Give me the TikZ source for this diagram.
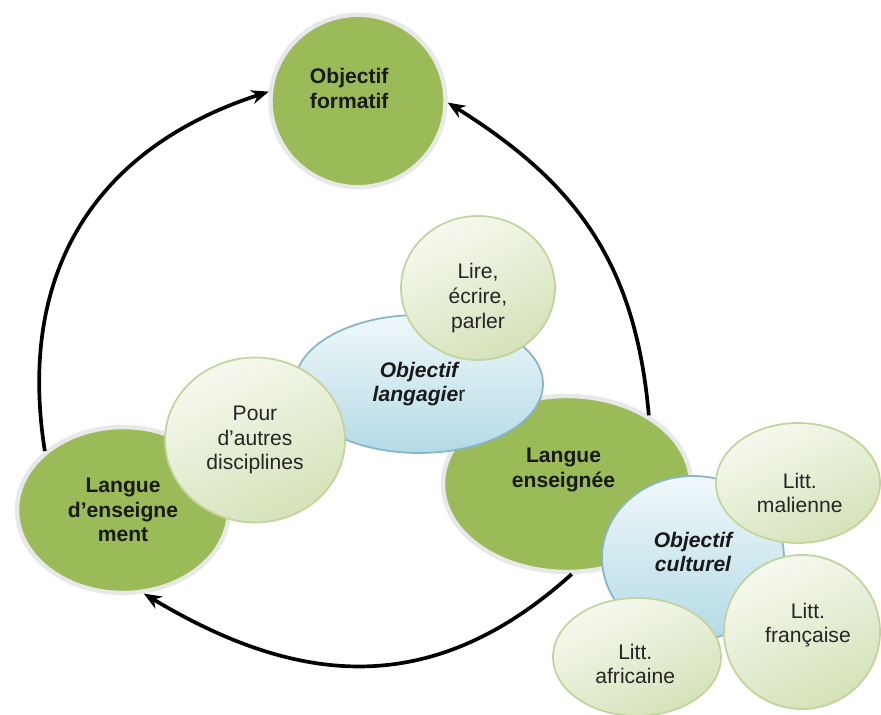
\documentclass[tikz,border=0pt]{standalone}
\usepackage{fontspec}
\setmainfont{Liberation Sans}
\usepackage{xcolor}
\usepackage{tikz}
\usetikzlibrary{arrows.meta,shapes.geometric}

\definecolor{olivegreen}{HTML}{9BBB59}
\definecolor{leaftop}{HTML}{F6F9EF}
\definecolor{leafbottom}{HTML}{D5E2B9}
\definecolor{leafrim}{HTML}{C2D49C}
\definecolor{skytop}{HTML}{F0F8FA}
\definecolor{skybottom}{HTML}{B3DAE6}
\definecolor{skyrim}{HTML}{86B6C8}

\begin{document}
\begin{tikzpicture}[
    x=0.02cm, y=0.02cm,
    darkblob/.style={ellipse, inner sep=0pt, fill=olivegreen, draw=black!9, line width=2.5pt},
    leafblob/.style={ellipse, inner sep=0pt, top color=leaftop, bottom color=leafbottom, shading angle=25, draw=leafrim, line width=1pt},
    skyblob/.style={ellipse, inner sep=0pt, top color=skytop, bottom color=skybottom, draw=skyrim, line width=1pt},
    btxt/.style={align=center, text=black!90, font=\fontsize{12}{14}\selectfont\bfseries},
    itxt/.style={align=center, text=black!90, font=\fontsize{12}{14}\selectfont\bfseries\itshape},
    ntxt/.style={align=center, text=black!85, font=\fontsize{12}{14}\selectfont},
    arrow/.style={-{Stealth[length=10pt,width=8pt]}, line width=2.1pt}
]
    \useasboundingbox (0,0) rectangle (881,715);

    % Main circles
    \node[darkblob, minimum width=4.24cm, minimum height=3.32cm,
          label={[btxt]center:Langue\\d’enseigne\\ment}] (lenseign) at (123,205) {};
    \node[darkblob, minimum width=3.5cm, minimum height=3.45cm,
          label={[btxt, xshift=-5pt, yshift=7pt]center:Objectif\\formatif}] (formatif) at (358,614) {};
    \node[darkblob, minimum width=4.96cm, minimum height=3.52cm,
          label={[btxt, xshift=-2pt, yshift=8pt]center:Langue\\enseignée}] (enseignee) at (567,231) {};

    % Objectif langagier
    \node[skyblob, minimum width=4.96cm, minimum height=2.76cm,
          label={[itxt]center:Objectif\\langagie{\normalfont r}}] (langagier) at (419,331) {};
    \node[leafblob, minimum width=3.6cm, minimum height=3.3cm,
          label={[ntxt]center:Pour\\d’autres\\disciplines}] (pour) at (255,275) {};
    \node[leafblob, minimum width=3.08cm, minimum height=2.88cm,
          label={[ntxt, yshift=-5.7pt]center:{Lire,\\écrire,\\parler}}] (lire) at (478,427) {};

    % Objectif culturel
    \node[skyblob, minimum width=3.64cm, minimum height=3.28cm,
          label={[itxt, yshift=3.4pt]center:Objectif\\culturel}] (culturel) at (693,157) {};
    \node[leafblob, minimum width=3.28cm, minimum height=2.4cm,
          label={[ntxt, xshift=1pt, yshift=-5.7pt]center:Litt.\\malienne}] (malienne) at (798,232) {};
    \node[leafblob, minimum width=3.12cm, minimum height=3.08cm,
          label={[ntxt, xshift=3.4pt, yshift=4pt]center:Litt.\\française}] (francaise) at (802,83) {};
    \node[leafblob, minimum width=3.36cm, minimum height=2.36cm,
          label={[ntxt, xshift=-1pt, yshift=-4pt]center:Litt.\\africaine}] (africaine) at (637,58) {};

    % Cycle arrows
    \draw[arrow] (lenseign.143) to[out=99, in=198, looseness=1.1] (formatif.174);
    \draw[arrow] (enseignee.40) to[out=95, in=328, looseness=1.05] (formatif.-1);
    \draw[arrow] (enseignee.273) to[out=222, in=329, looseness=1.1] (lenseign.284);
\end{tikzpicture}
\end{document}
